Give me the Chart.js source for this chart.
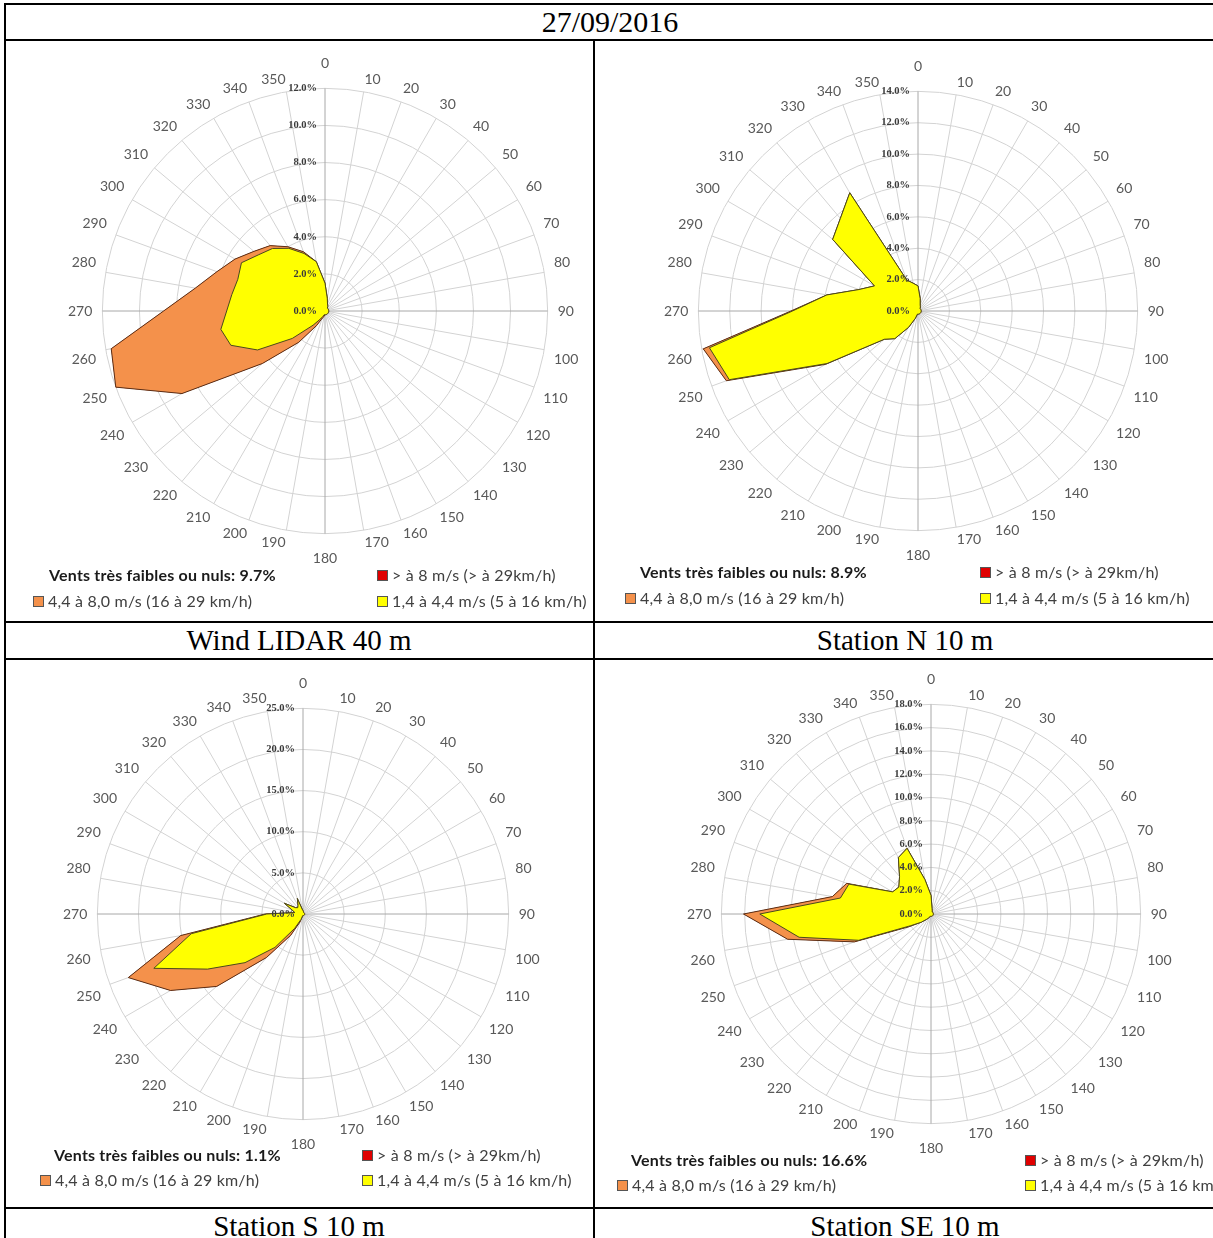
<!DOCTYPE html>
<html>
<head>
<meta charset="utf-8">
<script src="https://cdn.jsdelivr.net/npm/chart.js@4.4.0/dist/chart.umd.min.js"></script>
<style>
body { margin:0; background:#fff; }
#page { position:relative; width:1213px; height:1238px; overflow:hidden; background:#fff; }
.hl { position:absolute; left:4px; width:1230px; height:2px; background:#000; }
.vl { position:absolute; width:2px; background:#000; }
.cap { position:absolute; height:36px; line-height:36px; text-align:center; font-family:"Liberation Serif", serif; font-size:29px; color:#000; }
canvas { position:absolute; }
.leg { position:absolute; height:20px; line-height:20px; font-family:Lato, sans-serif; font-size:16px; letter-spacing:0.2px; color:#404040; white-space:nowrap; }
.leg b { color:#1a1a1a; }
.sq { display:inline-block; width:9px; height:9px; border:1px solid #555; margin-right:4px; vertical-align:0px; }
</style>
</head>
<body>
<div id="page">
  <div class="hl" style="top:3px"></div>
  <div class="vl" style="left:4px;top:3px;height:1240px"></div>
  <div class="hl" style="top:39px"></div>
  <div class="vl" style="left:593px;top:39px;height:1200px"></div>
  <div class="hl" style="top:621px"></div>
  <div class="hl" style="top:658px"></div>
  <div class="hl" style="top:1207px"></div>
  <div class="cap" style="left:5px;top:4px;width:1210px;font-size:30px">27/09/2016</div>
  <div class="cap" id="cap0" style="left:5px;top:622px;width:588px"></div>
  <div class="cap" id="cap1" style="left:595px;top:622px;width:620px"></div>
  <div class="cap" id="cap2" style="left:5px;top:1208px;width:588px"></div>
  <div class="cap" id="cap3" style="left:595px;top:1208px;width:620px"></div>
  <canvas id="rose0" width="514" height="514" style="left:67px;top:54px"></canvas>
  <canvas id="rose1" width="508" height="508" style="left:663px;top:57px"></canvas>
  <canvas id="rose2" width="480" height="480" style="left:62px;top:674px"></canvas>
  <canvas id="rose3" width="488" height="488" style="left:686px;top:670px"></canvas>
</div>
<script>
// directions (degrees), one spoke per 10°
const directions = [0,10,20,30,40,50,60,70,80,90,100,110,120,130,140,150,160,170,
                    180,190,200,210,220,230,240,250,260,270,280,290,300,310,320,330,340,350];

const speedClasses = ['> à 8 m/s (> à 29km/h)', '4,4 à 8,0 m/s (16 à 29 km/h)', '1,4 à 4,4 m/s (5 à 16 km/h)'];
const stations = ['Wind LIDAR 40 m', 'Station N 10 m', 'Station S 10 m', 'Station SE 10 m'];
const calmShares = [9.7, 8.9, 1.1, 16.6];
const axisMax = [12, 14, 25, 18];
const axisStep = [2, 2, 5, 2];

// % of time per direction, 1,4 à 4,4 m/s
const lidarLow = [1.5,0.7,0.4,0.3,0.2,0.2,0.2,0.2,0.2,0.2,0.2,0.2,0.2,0.2,0.2,0.2,0.2,0.2,
                  0.2,0.2,0.3,0.5,1.0,2.3,4.2,5.4,5.7,5.3,5.1,5.0,5.2,4.7,4.4,3.9,3.3,2.7];
// 4,4 à 8,0 m/s
const lidarMid = [0,0,0,0,0,0,0,0,0,0,0,0,0,0,0,0,0,0,
                  0,0.1,0.1,0.4,1.2,2.1,4.7,6.6,6.0,3.4,2.0,1.2,0.4,0.3,0.2,0.1,0.1,0];
const lidarHigh = [0,0,0,0,0,0,0,0,0,0,0,0,0,0,0,0,0,0,0,0,0,0,0,0,0,0,0,0,0,0,0,0,0,0,0,0];

const northLow = [1.6,0.8,0.4,0.3,0.2,0.2,0.2,0.2,0.2,0.2,0.2,0.2,0.2,0.2,0.2,0.2,0.2,0.2,
                  0.2,0.2,0.5,1.2,2.3,2.8,6.7,12.8,13.5,8.0,5.9,4.0,3.2,7.1,7.7,8.7,2.1,1.8];
const northMid = [0,0,0,0,0,0,0,0,0,0,0,0,0,0,0,0,0,0,
                  0,0,0,0,0,0,0.1,0.2,0.4,0.1,0,0,0,0,0,0,0,0];
const northHigh = [0,0,0,0,0,0,0,0,0,0,0,0,0,0,0,0,0,0,0,0,0,0,0,0,0,0,0,0,0,0,0,0,0,0,0,0];

const southLow = [0.4,0.3,0.2,0.2,0.2,0.2,0.2,0.2,0.2,0.2,0.2,0.2,0.2,0.2,0.2,0.2,0.2,0.2,
                  0.2,0.2,0.7,2.0,5.3,9.2,13.4,19.3,13.8,4.4,1.0,1.4,2.6,1.2,1.0,1.2,2.0,0.6];
const southMid = [0,0,0,0,0,0,0,0,0,0,0,0,0,0,0,0,0,0,
                  0,0,0.3,1.0,1.6,4.5,5.2,3.3,1.3,0.2,0,0,0,0,0,0,0,0];
const southHigh = [0,0,0,0,0,0,0,0,0,0,0,0,0,0,0,0,0,0,0,0,0,0,0,0,0,0,0,0,0,0,0,0,0,0,0,0];

const southEastLow = [1.6,0.5,0.3,0.2,0.2,0.2,0.2,0.2,0.2,0.2,0.2,0.2,0.2,0.2,0.2,0.2,0.2,0.2,
                      0.2,0.2,0.2,0.4,0.6,1.1,2.0,6.6,11.5,14.7,7.9,7.5,3.8,3.6,4.2,5.6,6.0,3.0];
const southEastMid = [0,0,0,0,0,0,0,0,0,0,0,0,0,0,0,0,0,0,
                      0,0,0,0,0,0,0.2,0.4,1.0,1.4,0.7,0.2,0,0,0,0,0,0];
const southEastHigh = [0,0,0,0,0,0,0,0,0,0,0,0,0,0,0,0,0,0,0,0,0,0,0,0,0,0,0,0,0,0,0,0,0,0,0,0];

const lows = [lidarLow, northLow, southLow, southEastLow];
const mids = [lidarMid, northMid, southMid, southEastMid];
const highs = [lidarHigh, northHigh, southHigh, southEastHigh];

// legend anchors [calm, high, mid, low] as [x, y]
const legendPos = [
  [[49,575],[377,575],[33,601],[377,601]],
  [[640,572],[980,572],[625,598],[980,598]],
  [[54,1155],[362,1155],[40,1180],[362,1180]],
  [[631,1160],[1025,1160],[617,1185],[1025,1185]]
];
const squareColors = ['#e00000', '#f4914b', '#ffff00'];

// the percentage labels sit left of the north axis, 0.0% included
const tickLabels = {
  id: 'tickLabels',
  afterDatasetsDraw(chart) {
    const r = chart.scales.r;
    const ctx = chart.ctx;
    ctx.save();
    ctx.font = 'bold 10.5px "Liberation Serif"';
    ctx.fillStyle = '#3a3a3a';
    ctx.textAlign = 'right';
    ctx.textBaseline = 'middle';
    r.ticks.forEach(t => {
      const d = r.getDistanceFromCenterForValue(t.value);
      ctx.fillText(t.value.toFixed(1) + '%', r.xCenter - 8, r.yCenter - d);
    });
    ctx.restore();
  }
};

// labels hug the ring except at N and S
function labelPadding(c) {
  const a = c.index * 10;
  if (a % 180 === 0) return 16;
  return 3 + 7 * Math.abs(Math.sin(a * Math.PI / 180));
}

function makeRose(i) {
  const low = lows[i];
  const lowMid = low.map((v, k) => v + mids[i][k]);
  const all = lowMid.map((v, k) => v + highs[i][k]);
  new Chart(document.getElementById('rose' + i), {
    type: 'radar',
    data: {
      labels: directions.map(String),
      datasets: [
        { label: speedClasses[2], data: low, backgroundColor: '#ffff00', borderColor: '#4a4a1c', fill: true },
        { label: speedClasses[1], data: lowMid, backgroundColor: '#f4914b', borderColor: '#5a3016', fill: true },
        { label: speedClasses[0], data: all, backgroundColor: '#e00000', borderColor: '#e00000', borderWidth: 0, fill: true }
      ]
    },
    options: {
      responsive: false,
      animation: false,
      plugins: { legend: { display: false }, tooltip: { enabled: false } },
      elements: { line: { borderWidth: 1, tension: 0 }, point: { radius: 0 } },
      scales: {
        r: {
          min: 0,
          max: axisMax[i],
          ticks: { stepSize: axisStep[i], display: false },
          grid: { circular: true, color: '#d3d3d3', lineWidth: 1 },
          angleLines: { color: c => (c.index % 9 === 0 ? '#a8a8a8' : '#d3d3d3'), lineWidth: 1 },
          pointLabels: { font: { family: 'Lato', size: 14 }, color: '#595959', padding: labelPadding }
        }
      }
    },
    plugins: [tickLabels]
  });

  document.getElementById('cap' + i).textContent = stations[i];
  const page = document.getElementById('page');
  const texts = ['Vents très faibles ou nuls: ' + calmShares[i] + '%', speedClasses[0], speedClasses[1], speedClasses[2]];
  texts.forEach((t, k) => {
    const d = document.createElement('div');
    d.className = 'leg';
    d.style.left = legendPos[i][k][0] + 'px';
    d.style.top = (legendPos[i][k][1] - 10) + 'px';
    if (k === 0) {
      d.innerHTML = '<b>' + t + '</b>';
    } else {
      const sq = document.createElement('span');
      sq.className = 'sq';
      sq.style.background = squareColors[k - 1];
      d.appendChild(sq);
      d.appendChild(document.createTextNode(t));
    }
    page.appendChild(d);
  });
}

[0, 1, 2, 3].forEach(makeRose);
</script>
</body>
</html>
